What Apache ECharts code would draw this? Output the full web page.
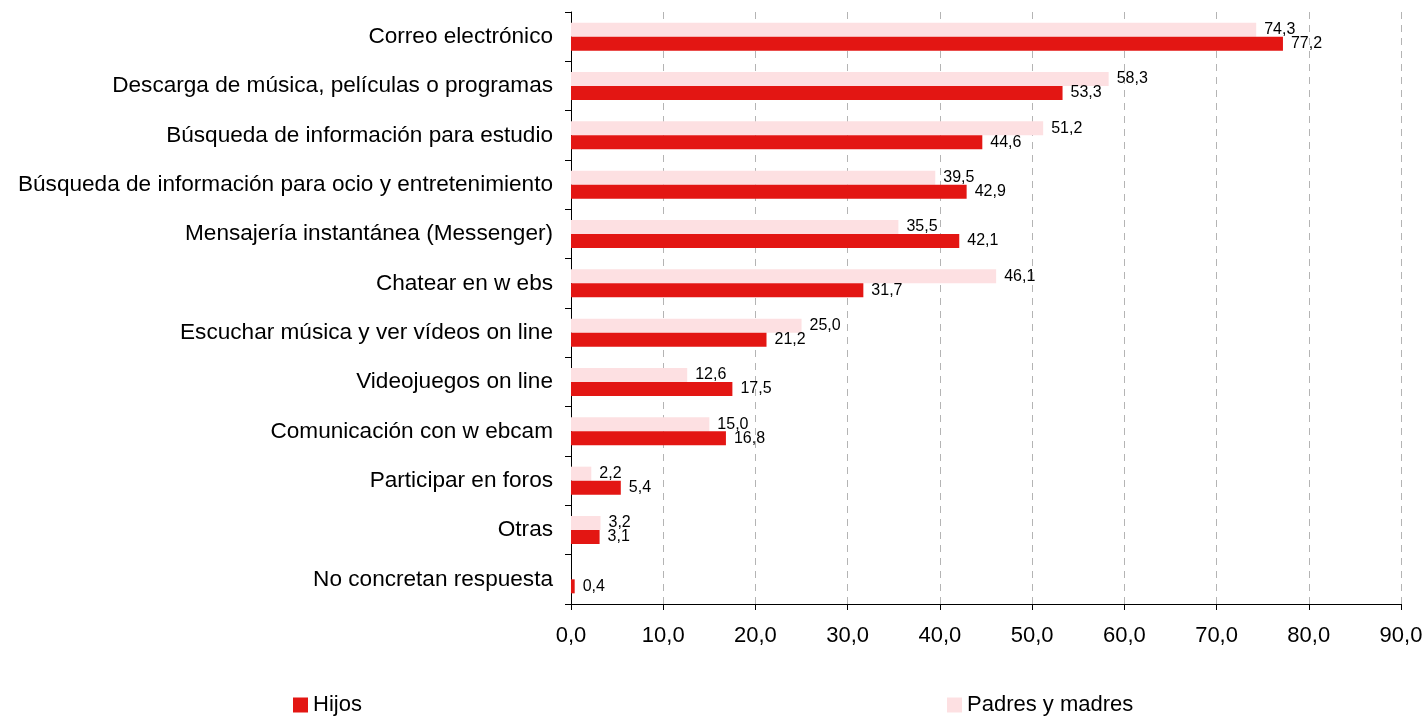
<!DOCTYPE html>
<html>
<head>
<meta charset="utf-8">
<script src="https://cdn.jsdelivr.net/npm/echarts@6/dist/echarts.min.js"></script>
<style>
  html, body { margin: 0; padding: 0; background: #fff; }
  #chart { width: 1428px; height: 716px; }
</style>
</head>
<body>
<div id="chart"></div>
<script>
// Uses of Internet, children vs. parents (%)
const categories = [
  'Correo electrónico',
  'Descarga de música, películas o programas',
  'Búsqueda de información para estudio',
  'Búsqueda de información para ocio y entretenimiento',
  'Mensajería instantánea (Messenger)',
  'Chatear en w ebs',
  'Escuchar música y ver vídeos on line',
  'Videojuegos on line',
  'Comunicación con w ebcam',
  'Participar en foros',
  'Otras',
  'No concretan respuesta'
];
const hijos = [77.2, 53.3, 44.6, 42.9, 42.1, 31.7, 21.2, 17.5, 16.8, 5.4, 3.1, 0.4];
const padres = [74.3, 58.3, 51.2, 39.5, 35.5, 46.1, 25.0, 12.6, 15.0, 2.2, 3.2, null];

const fmt = v => Number(v).toFixed(1).replace('.', ',');
const FONT = '"Liberation Sans", Arial, sans-serif';

const legendBase = {
  top: 694,
  padding: 0,
  itemWidth: 15, itemHeight: 15,
  icon: 'rect',
  textStyle: { fontFamily: FONT, fontSize: 22, color: '#000' }
};

const chart = echarts.init(document.getElementById('chart'), null, { renderer: 'canvas' });
chart.setOption({
  backgroundColor: '#ffffff',
  animation: false,
  textStyle: { fontFamily: FONT, color: '#000' },
  grid: { left: 571, right: 27, top: 12, bottom: 112, containLabel: false },
  legend: [
    Object.assign({ data: ['Hijos'], left: 293 }, legendBase),
    Object.assign({ data: ['Padres y madres'], left: 947 }, legendBase)
  ],
  xAxis: {
    type: 'value',
    min: 0, max: 90, interval: 10,
    axisLine: { show: true, lineStyle: { color: '#000', width: 1 } },
    axisTick: { show: true, length: 6, lineStyle: { color: '#000' } },
    axisLabel: { formatter: fmt, fontSize: 22, color: '#000', margin: 21, fontFamily: FONT },
    splitLine: { show: true, lineStyle: { color: '#b4b4b4', type: [7, 6], width: 1 } }
  },
  yAxis: {
    type: 'category',
    data: categories,
    inverse: true,
    axisLine: { show: true, lineStyle: { color: '#000', width: 1 } },
    axisTick: { show: true, length: 6, alignWithLabel: false, lineStyle: { color: '#000' } },
    axisLabel: { fontSize: 22.6, color: '#000', margin: 18, fontFamily: FONT },
    splitLine: { show: false }
  },
  series: [
    {
      name: 'Padres y madres',
      type: 'bar',
      data: padres,
      barWidth: 14,
      barGap: '0%',
      itemStyle: { color: '#fde0e2' },
      label: {
        show: true, position: 'right', distance: 8,
        formatter: p => fmt(p.value),
        fontSize: 16, color: '#000', fontFamily: FONT
      }
    },
    {
      name: 'Hijos',
      type: 'bar',
      data: hijos,
      barWidth: 14,
      barGap: '0%',
      itemStyle: { color: '#e31613' },
      label: {
        show: true, position: 'right', distance: 8,
        formatter: p => fmt(p.value),
        fontSize: 16, color: '#000', fontFamily: FONT
      }
    }
  ]
});
</script>
</body>
</html>
